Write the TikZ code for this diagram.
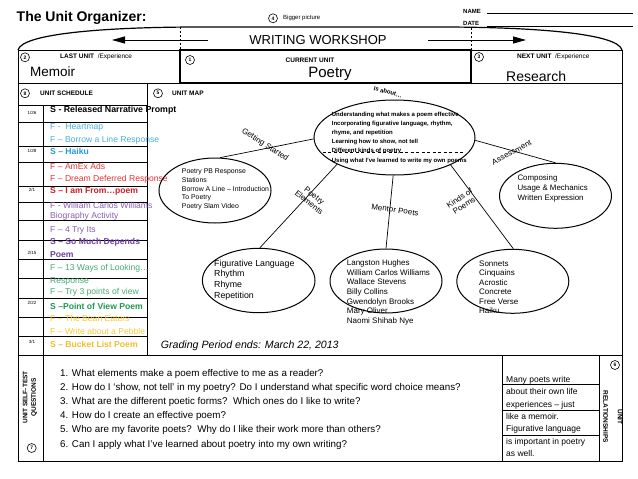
\documentclass[tikz,border=0pt]{standalone}
\usepackage{fontspec}
\setmainfont{Liberation Sans}
\usetikzlibrary{shapes.geometric,arrows.meta}
\definecolor{cblue}{RGB}{72,176,224}
\definecolor{cblueS}{RGB}{40,156,214}
\definecolor{cred}{RGB}{228,52,52}
\definecolor{credS}{RGB}{212,30,36}
\definecolor{cpurp}{RGB}{138,94,184}
\definecolor{cpurpS}{RGB}{112,62,162}
\definecolor{cgreen}{RGB}{70,172,116}
\definecolor{cgreenS}{RGB}{32,150,84}
\definecolor{cyel}{RGB}{246,202,56}
\definecolor{cyelS}{RGB}{240,190,40}
\newcommand\fsz[2]{\fontsize{#1}{#2}\selectfont}
\begin{document}
\begin{tikzpicture}[x=1pt,y=-1pt,
  frm/.style={line width=1pt},
  thinl/.style={line width=0.6pt},
  num/.style={circle,draw,line width=0.6pt,minimum size=9pt,inner sep=0pt,font=\fsz{5}{5}\bfseries},
  txt/.style={inner sep=0pt,anchor=west},
  sch/.style={txt,font=\fsz{8.6}{10}},
  schb/.style={txt,font=\fsz{8.6}{10}\bfseries},
  dt/.style={inner sep=0pt,font=\fsz{4.5}{5}},
  ell/.style={ellipse,draw,line width=1pt,inner sep=0pt},
  conn/.style={line width=0.7pt},
  clab/.style={inner sep=0pt,font=\fsz{8}{8.5},align=center},
  hdr/.style={txt,font=\fsz{6.5}{7}},
]
\useasboundingbox (0,0) rectangle (638,479);
\fill[white] (0,0) rectangle (638,479);

% ---------- header ----------
\node[inner sep=0pt,anchor=base west,font=\fsz{14}{16}\bfseries] (title) at (16.5,21.7) {The Unit Organizer:};
\node[num] (n4) at (273,18.3) {4};
\node[txt,font=\fsz{6}{7}] (bigp) at (283,18.3) {Bigger picture};
\node[inner sep=0pt,anchor=base west,font=\fsz{6}{7}\bfseries] (name) at (463,13.5) {NAME};
\node[inner sep=0pt,anchor=base west,font=\fsz{6}{7}\bfseries] (date) at (463,26) {DATE};
\coordinate (nl1) at (487,13.5); \coordinate (nl2) at (633,13.5);
\coordinate (dl1) at (487,26); \coordinate (dl2) at (633,26);
\draw[thinl] (nl1) -- (nl2);
\draw[thinl] (dl1) -- (dl2);

% arch
\draw[line width=1.2pt] (18,50) .. controls (22,33) and (110,27) .. (200,27) -- (440,27) .. controls (530,27) and (618,33) .. (622,50);
\draw[line width=0.6pt,dash pattern=on 2pt off 2pt] (180,27) -- (180,50);
\draw[line width=0.6pt,dash pattern=on 2pt off 2pt] (471,28) -- (471,50);
\node[inner sep=0pt,font=\fsz{13}{15}] (ww) at (318,40) {WRITING WORKSHOP};
\coordinate (la1) at (208,40); \coordinate (la2) at (112,40);
\coordinate (ra1) at (428,40); \coordinate (ra2) at (526,40);
\draw[line width=1pt,-{Triangle[length=13pt,width=7pt]}] (la1) -- (la2);
\draw[line width=1pt,-{Triangle[length=13pt,width=7pt]}] (ra1) -- (ra2);

% ---------- frame ----------
\draw[frm] (18,50) rectangle (622,461);
\draw[frm] (18,83) -- (622,83);
\draw[frm] (147,83) -- (147,355);
\draw[frm] (18,355) -- (622,355);
\draw[thinl] (43,105) -- (43,355);
\draw[thinl] (18,105) -- (147,105);
\foreach \yy in {122.7,146.7,162.7,186,202.7,220.7,240,259.3,278.3,298.3,317.3,336}
  \draw[thinl] (18,\yy) -- (147,\yy);
\draw[frm] (43,355) -- (43,461);
\draw[frm] (502,355) -- (502,461);
\draw[frm] (599,355) -- (599,461);
\foreach \yy in {384.3,410.7,435}
  \draw[thinl] (502,\yy) -- (599,\yy);
\draw[line width=2.6pt] (180,50) rectangle (471,83);

% ---------- unit row ----------
\node[num] (n2) at (25,57.3) {2};
\node[hdr] (lastu) at (60,56.7) {\textbf{LAST UNIT} \ /Experience};
\node[txt,font=\fsz{13.5}{15}] (memoir) at (30,71.5) {Memoir};
\node[num] (n1) at (190,60) {1};
\node[inner sep=0pt,font=\fsz{6.5}{7}\bfseries] (curu) at (310,60) {CURRENT UNIT};
\node[inner sep=0pt,font=\fsz{15}{17}] (poetry) at (330,74) {Poetry};
\node[num] (n3) at (479,57) {3};
\node[hdr] (nextu) at (517,56.5) {\textbf{NEXT UNIT} \ /Experience};
\node[txt,font=\fsz{14}{16}] (research) at (506,76) {Research};

% ---------- schedule ----------
\node[num] (n8) at (25,93.3) {8};
\node[hdr,font=\fsz{6.5}{7}\bfseries] (usch) at (40,93.3) {UNIT SCHEDULE};
\node[num] (n5) at (158,93.3) {5};
\node[hdr,font=\fsz{6.5}{7}\bfseries] (umap) at (172,93.3) {UNIT MAP};

\node[dt] (d1) at (32,112.7) {1/26};
\node[dt] (d2) at (32,151) {1/28};
\node[dt] (d3) at (32,190) {2/1};
\node[dt] (d4) at (32,252.7) {2/15};
\node[dt] (d5) at (32,303.3) {2/22};
\node[dt] (d6) at (32,341.7) {3/1};

\node[schb,font=\fsz{8.8}{10}\bfseries] (s1) at (50,110.7) {S - Released Narrative Prompt};
\node[sch,text=cblue] (f1) at (50,127.3) {F -\ \ Heartmap};
\node[sch,text=cblue] (f2) at (50,140.7) {F – Borrow a Line Response};
\node[schb,text=cblueS] (s2) at (50,151.7) {S – Haiku};
\node[sch,text=cred] (f3) at (50,166) {F – AmEx Ads};
\node[sch,text=cred] (f4) at (50,179) {F – Dream Deferred Response};
\node[schb,text=credS] (s3) at (50,191) {S – I am From…poem};
\node[sch,text=cpurp] (f5) at (50,205) {F - William Carlos Williams};
\node[sch,text=cpurp] (f5b) at (50,216.7) {Biography Activity};
\node[sch,text=cpurp] (f6) at (50,230) {F – 4 Try Its};
\node[schb,text=cpurpS] (s4) at (50,242.3) {S – So Much Depends};
\node[schb,text=cpurpS] (s4b) at (50,254.3) {Poem};
\node[sch,text=cgreen] (f7) at (50,268.3) {F – 13 Ways of Looking…};
\node[sch,text=cgreen] (f7b) at (50,281) {Response};
\node[sch,text=cgreen] (f8) at (50,292.7) {F – Try 3 points of view};
\node[schb,text=cgreenS] (s5) at (50,306.7) {S –Point of View Poem};
\node[sch,text=cyel] (f9) at (50,318.3) {F – The Bean Eaters};
\node[sch,text=cyel] (f10) at (50,331.7) {F – Write about a Pebble};
\node[schb,text=cyelS] (s6) at (50,344) {S – Bucket List Poem};

% ---------- unit map ----------
\node[ell,minimum width=161pt,minimum height=75pt] (core) at (394.5,137.5) {};
\node[ell,minimum width=112pt,minimum height=65pt] (gs) at (215,190.5) {};
\node[ell,minimum width=112.6pt,minimum height=64.4pt] (fl) at (258.7,280.5) {};
\node[ell,minimum width=112pt,minimum height=64pt] (mp) at (386,281) {};
\node[ell,minimum width=112pt,minimum height=64pt] (kp) at (512.8,281.3) {};
\node[ell,minimum width=112pt,minimum height=65pt] (as) at (555.5,195.8) {};

\draw[conn] (core.181) -- (gs.81);
\draw[conn] (core.205) -- (fl.88);
\draw[conn] (core.268) -- (mp.90);
\draw[conn] (core.-26) -- (kp.89);
\draw[conn] (core.-2) -- (as.90);

\coordinate (dd1) at (322.7,152); \coordinate (dd2) at (465,152);
\draw[line width=0.7pt,dash pattern=on 3pt off 2.5pt] (dd1) -- (dd2);

\node[inner sep=0pt,font=\fsz{6}{7}\bfseries,rotate=-15] (isab) at (388,92) {Is about…};
\node[txt,align=left,font=\fsz{6}{9.15}\bfseries] (coretxt) at (331.7,137.7) {Understanding what makes a poem effective\\Incorporating figurative language, rhythm,\\rhyme, and repetition\\Learning how to show, not tell\\Different kinds of poetry\\Using what I've learned to write my own poems};
\node[txt,align=left,font=\fsz{6.9}{8.6}] (gstxt) at (181.7,189.5) {Poetry PB Response\\Stations\\Borrow A Line – Introduction\\To Poetry\\Poetry Slam Video};
\node[txt,align=left,font=\fsz{8.8}{10.7}] (fltxt) at (214,280) {Figurative Language\\Rhythm\\Rhyme\\Repetition};
\node[txt,align=left,font=\fsz{8}{9.67}] (mptxt) at (346.7,292.3) {Langston Hughes\\William Carlos Williams\\Wallace Stevens\\Billy Collins\\Gwendolyn Brooks\\Mary Oliver\\Naomi Shihab Nye};
\node[txt,align=left,font=\fsz{8}{9.55}] (kptxt) at (479,287.2) {Sonnets\\Cinquains\\Acrostic\\Concrete\\Free Verse\\Haiku};
\node[txt,align=left,font=\fsz{7.9}{9.8}] (astxt) at (517.3,188.5) {Composing\\Usage \& Mechanics\\Written Expression};

\node[clab,rotate=-33] (lgs) at (265,145) {Getting Started};
\node[clab,rotate=-38] (lpe) at (311.7,199.3) {Poetry\\Elements};
\node[clab,rotate=-8] (lmp) at (395,210) {Mentor Poets};
\node[clab,rotate=33] (lkp) at (461.7,201.7) {Kinds of\\Poems};
\node[clab,rotate=28] (las) at (511.7,152.5) {Assessment};

\node[txt,font=\fsz{10.6}{12}\itshape] (grade) at (160.7,346) {Grading Period ends: March 22, 2013};

% ---------- bottom ----------
\node[inner sep=0pt,rotate=90,align=center,font=\fsz{6.5}{8.5}\bfseries] (stq) at (30,397.5) {UNIT SELF-TEST\\QUESTIONS};
\node[num] (n7) at (31.7,448) {7};
\node[txt,align=left,font=\fsz{9.8}{14.2}] (qs) at (60,409) {1. What elements make a poem effective to me as a reader?\\2. How do I ‘show, not tell’ in my poetry? Do I understand what specific word choice means?\\3. What are the different poetic forms?\ \ Which ones do I like to write?\\4. How do I create an effective poem?\\5. Who are my favorite poets?\ \ Why do I like their work more than others?\\6. Can I apply what I've learned about poetry into my own writing?};
\node[txt,align=left,font=\fsz{8.5}{12.33}] (rel) at (506,416.5) {Many poets write\\about their own life\\experiences – just\\like a memoir.\\Figurative language\\is important in poetry\\as well.};
\node[num] (n6) at (615,365) {6};
\node[inner sep=0pt,rotate=-90,align=center,font=\fsz{6.5}{14.5}\bfseries] (urel) at (612.7,417) {UNIT\\RELATIONSHIPS};
\end{tikzpicture}
\end{document}
